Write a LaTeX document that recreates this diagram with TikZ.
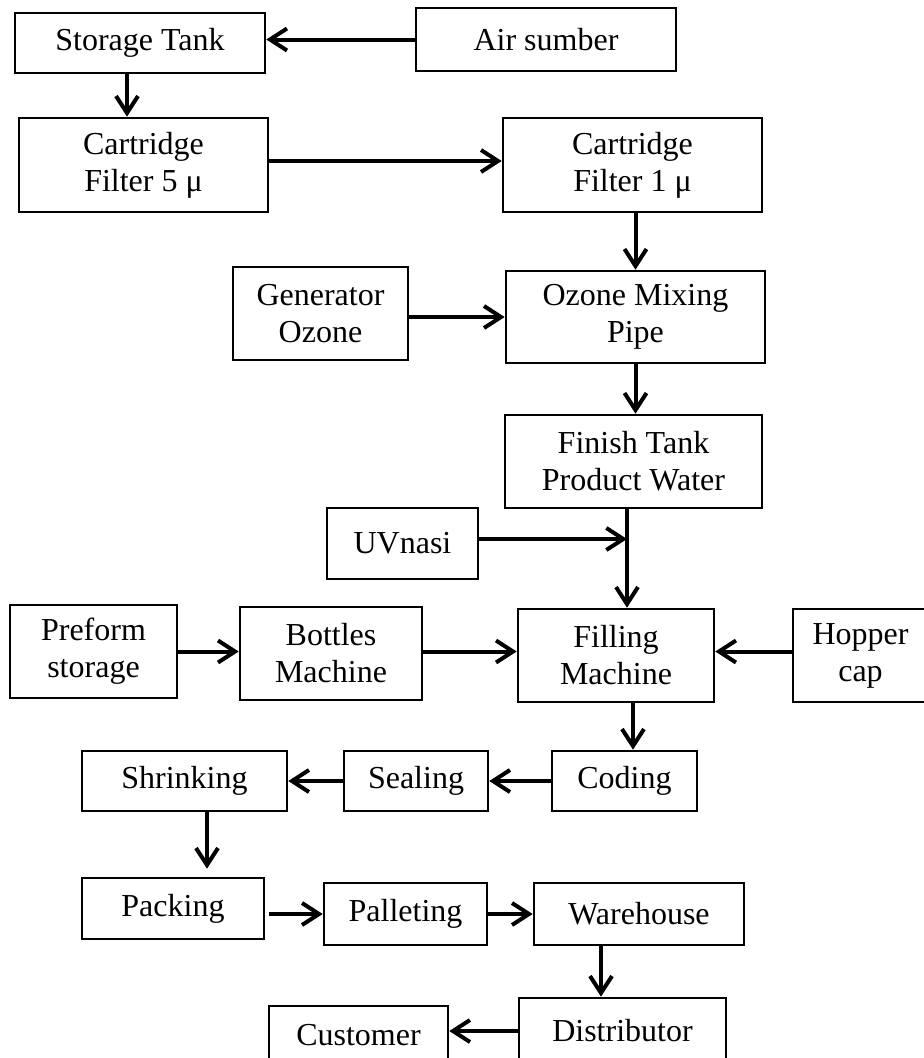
\documentclass[tikz,border=0pt]{standalone}
\usepackage{fontspec}
\setmainfont{Liberation Serif}
\usetikzlibrary{arrows.meta}
\begin{document}
\begin{tikzpicture}[x=1pt,y=-1pt,
  box/.style={draw, line width=2.6pt, inner sep=0pt, align=center,
    font=\fontsize{32}{37}\selectfont},
  arr/.style={line width=4pt, -{Straight Barb[length=17pt,width=22pt,line width=4pt]}}]
\useasboundingbox (0,0) rectangle (924,1058);
\clip (0,0) rectangle (924,1058);
% nodes
\node[box, minimum width=250pt, minimum height=60pt] (storage) at (140,43) {Storage Tank};
\node[box, minimum width=260pt, minimum height=63pt] (air) at (546,39.5) {Air sumber};
\node[box, minimum width=249pt, minimum height=94pt] (cart5) at (143.5,165) {Cartridge\\Filter 5 μ};
\node[box, minimum width=259pt, minimum height=94pt] (cart1) at (632.5,165) {Cartridge\\Filter 1 μ};
\node[box, minimum width=175pt, minimum height=93pt] (gen) at (320.5,313.5) {Generator\\Ozone};
\node[box, minimum width=259pt, minimum height=92pt] (ozone) at (635.5,317) {Ozone Mixing\\Pipe};
\node[box, minimum width=257pt, minimum height=93pt] (finish) at (633.5,461.5) {Finish Tank\\Product Water};
\node[box, minimum width=151pt, minimum height=71pt] (uv) at (402.5,543.5) {UVnasi};
\node[box, minimum width=167pt, minimum height=93pt] (preform) at (93.5,651.5) {Preform\\storage};
\node[box, minimum width=182pt, minimum height=93pt] (bottles) at (331,653.5) {Bottles\\Machine};
\node[box, minimum width=196pt, minimum height=93pt] (filling) at (616,655.5) {Filling\\Machine};
\node[box, minimum width=135pt, minimum height=93pt] (hopper) at (860.5,655.5) {Hopper\\cap};
\node[box, minimum width=205pt, minimum height=60pt] (shrinking) at (184.5,781) {Shrinking};
\node[box, minimum width=144pt, minimum height=60pt] (sealing) at (416,781) {Sealing};
\node[box, minimum width=145pt, minimum height=60pt] (coding) at (624.5,781) {Coding};
\node[box, minimum width=182pt, minimum height=61pt] (packing) at (173,908.5) {Packing};
\node[box, minimum width=163pt, minimum height=62pt] (palleting) at (405.5,914) {Palleting};
\node[box, minimum width=210pt, minimum height=62pt] (warehouse) at (639,914) {Warehouse};
\node[box, minimum width=207pt, minimum height=66pt] (distributor) at (622.5,1031) {Distributor};
\node[box, minimum width=179pt, minimum height=58pt] (customer) at (358.5,1035) {Customer};
\coordinate (j) at (627,539);
% connectors
\draw[arr] (air.west) -- (air.west -| storage.east);
\draw[arr] ([xshift=-13pt]storage.south) -- ([xshift=-13pt]storage.south |- cart5.north);
\draw[arr] ([yshift=4pt]cart5.east) -- ([yshift=4pt]cart5.east -| cart1.west);
\draw[arr] (cart1.south -| ozone.north) -- (ozone.north);
\draw[arr] (ozone.west -| gen.east) -- (ozone.west);
\draw[arr] (ozone.south) -- (ozone.south |- finish.north);
\draw[arr] (j |- finish.south) -- (j |- filling.north);
\draw[arr] (j -| uv.east) -- (j);
\draw[arr] (preform.east) -- (preform.east -| bottles.west);
\draw[arr] (preform.east -| bottles.east) -- (preform.east -| filling.west);
\draw[arr] (preform.east -| hopper.west) -- (preform.east -| filling.east);
\draw[arr] ([xshift=17pt]filling.south) -- ([xshift=17pt]filling.south |- coding.north);
\draw[arr] (coding.west) -- (coding.west -| sealing.east);
\draw[arr] (sealing.west) -- (sealing.west -| shrinking.east);
\draw[arr, shorten >=8pt] ([xshift=22.5pt]shrinking.south) -- ([xshift=22.5pt]shrinking.south |- packing.north);
\draw[arr, shorten <=4pt] (palleting.west -| packing.east) -- (palleting.west);
\draw[arr] (palleting.east) -- (palleting.east -| warehouse.west);
\draw[arr] ([xshift=-38pt]warehouse.south) -- ([xshift=-38pt]warehouse.south |- distributor.north);
\draw[arr] (distributor.west) -- (distributor.west -| customer.east);
\end{tikzpicture}
\end{document}
